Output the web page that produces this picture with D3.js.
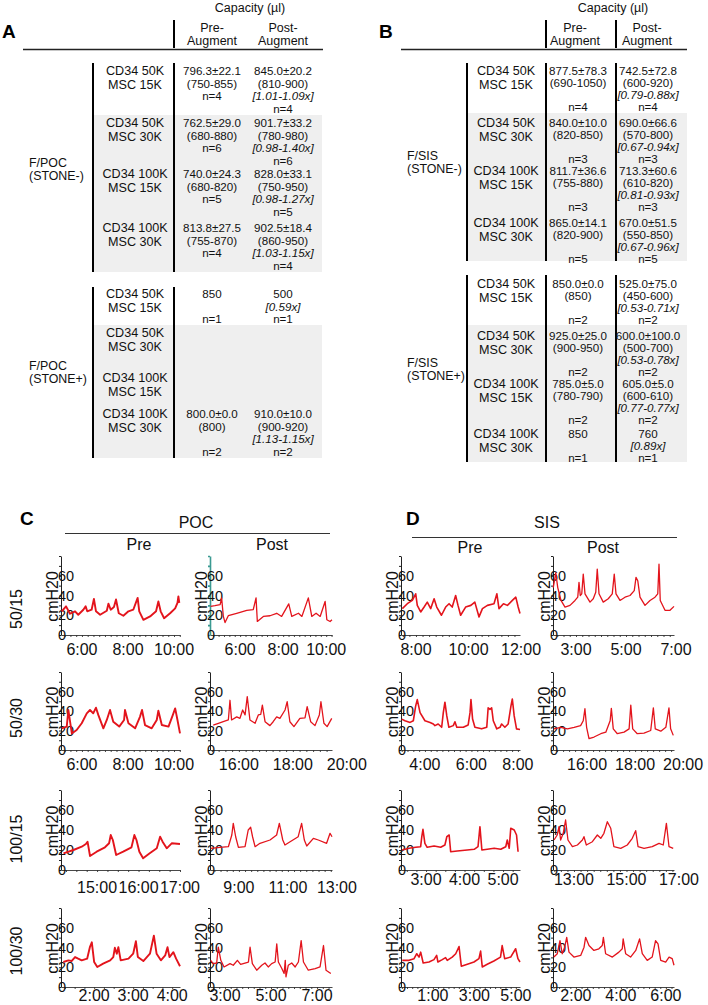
<!DOCTYPE html>
<html><head><meta charset="utf-8">
<script src="https://cdn.jsdelivr.net/npm/d3@7"></script>
<style>
body{margin:0;background:#fff}
svg{display:block;font-family:"Liberation Sans",Arial,Helvetica,sans-serif}
</style></head>
<body><svg id="c" width="708" height="1005"></svg>
<script>
// ---------------- DATA ----------------
const capacityTitle = "Capacity (µl)";
const colHeads = [["Pre-","Augment"],["Post-","Augment"]];
const conditionLabels = [["CD34 50K","MSC 15K"],["CD34 50K","MSC 30K"],["CD34 100K","MSC 15K"],["CD34 100K","MSC 30K"]];
const groupsA = [["F/POC","(STONE-)"],["F/POC","(STONE+)"]];
const groupsB = [["F/SIS","(STONE-)"],["F/SIS","(STONE+)"]];
const preA = [
  [["796.3±22.1","(750-855)","n=4"],["762.5±29.0","(680-880)","n=6"],["740.0±24.3","(680-820)","n=5"],["813.8±27.5","(755-870)","n=4"]],
  [["850",null,"n=1"],[],[],["800.0±0.0","(800)",null,"n=2"]]
];
const postA = [
  [["845.0±20.2","(810-900)","[1.01-1.09x]","n=4"],["901.7±33.2","(780-980)","[0.98-1.40x]","n=6"],["828.0±33.1","(750-950)","[0.98-1.27x]","n=5"],["902.5±18.4","(860-950)","[1.03-1.15x]","n=4"]],
  [["500","[0.59x]","n=1"],[],[],["910.0±10.0","(900-920)","[1.13-1.15x]","n=2"]]
];
const preB = [
  [["877.5±78.3","(690-1050)",null,"n=4"],["840.0±10.0","(820-850)",null,"n=3"],["811.7±36.6","(755-880)",null,"n=3"],["865.0±14.1","(820-900)",null,"n=5"]],
  [["850.0±0.0","(850)",null,"n=2"],["925.0±25.0","(900-950)",null,"n=2"],["785.0±5.0","(780-790)",null,"n=2"],["850",null,"n=1"]]
];
const postB = [
  [["742.5±72.8","(600-920)","[0.79-0.88x]","n=4"],["690.0±66.6","(570-800)","[0.67-0.94x]","n=3"],["713.3±60.6","(610-820)","[0.81-0.93x]","n=3"],["670.0±51.5","(550-850)","[0.67-0.96x]","n=5"]],
  [["525.0±75.0","(450-600)","[0.53-0.71x]","n=2"],["600.0±100.0","(500-700)","[0.53-0.78x]","n=2"],["605.0±5.0","(600-610)","[0.77-0.77x]","n=2"],["760","[0.89x]","n=1"]]
];

const rowLabels = ["50/15","50/30","100/15","100/30"];
const yTickValues = [0,20,40,60];
const yLabel = "cmH20";

const pocPreDomains  = [[5.09,10.26],[5.09,10.26],[14.13,17.0],[1.15,4.2]];
const pocPostDomains = [[4.6,10.27],[14.93,19.45],[7.82,12.8],[2.35,7.65]];
const sisPreDomains  = [[7.43,11.96],[2.97,8.09],[2.35,5.44],[-0.54,5.2]];
const sisPostDomains = [[2.08,6.92],[14.58,19.62],[12.2,16.81],[0.98,6.36]];
const pocPreTicks  = [[6,8,10],[6,8,10],[15,16,17],[2,3,4]];
const pocPostTicks = [[6,8,10],[16,18,20],[9,11,13],[3,5,7]];
const sisPreTicks  = [[8,10,12],[4,6,8],[3,4,5],[1,3,5]];
const sisPostTicks = [[3,5,7],[16,18,20],[13,15,17],[2,4,6]];

// traces: [hour, cmH2O]
const pocPre5015 = [[5.12,24],[5.31,29],[5.48,21.5],[5.70,24],[5.84,20.5],[6.06,25.6],[6.16,29],[6.23,24],[6.42,25.6],[6.52,36.6],[6.61,24],[6.79,20.5],[7.08,24.6],[7.15,31.8],[7.25,25.6],[7.39,28.4],[7.48,36],[7.60,22],[7.80,19.5],[8.02,24],[8.23,25.6],[8.42,37.6],[8.49,24],[8.67,15.4],[8.96,18.8],[9.22,24],[9.32,34],[9.42,24],[9.57,17],[9.83,22],[10.05,27],[10.15,32.5],[10.19,39],[10.23,32.5]];
const pocPre5030 = [[5.12,22.2],[5.34,24],[5.41,41],[5.56,17],[5.77,20.5],[5.99,27.4],[6.21,37.6],[6.35,41],[6.49,37.6],[6.61,43.4],[6.71,36],[6.93,22.2],[7.08,30.8],[7.22,41],[7.36,29],[7.62,24],[7.83,30.8],[7.87,41],[8.02,27.4],[8.31,22.2],[8.52,34],[8.61,41],[8.74,25.6],[9.03,22.2],[9.25,30.8],[9.32,40.3],[9.47,25.6],[9.76,24],[9.95,36],[10.05,42.7],[10.15,30.8],[10.26,17]];
const pocPre10015 = [[14.19,16.7],[14.43,20],[14.63,23.3],[14.73,26],[14.77,28.3],[14.83,14],[14.99,18.3],[15.19,22.7],[15.29,26.7],[15.33,35],[15.38,30],[15.46,15],[15.63,18.3],[15.83,22.7],[15.90,35],[15.95,30],[16.02,18.3],[16.11,11.7],[16.27,16.7],[16.44,21.7],[16.52,33.3],[16.58,28.3],[16.68,21.7],[16.80,26.7],[17.00,26]];
const pocPre10030 = [[1.21,25.3],[1.34,27],[1.42,26.3],[1.51,30.3],[1.59,28.7],[1.68,27],[1.82,28.7],[1.89,40.3],[1.94,45.3],[2.00,25.3],[2.08,20.3],[2.23,23.7],[2.41,27],[2.49,30.3],[2.53,39.7],[2.58,33.7],[2.62,40.3],[2.68,27],[2.88,28.7],[3.00,33.7],[3.07,46.3],[3.12,30.3],[3.26,26.3],[3.43,33.7],[3.53,52],[3.60,33.7],[3.71,27],[3.82,32],[3.88,40.3],[3.93,30.3],[4.03,35.3],[4.10,28.7],[4.20,21]];
const pocPost5015 = [[4.63,29],[4.83,29.7],[5.07,30.8],[5.14,37.6],[5.22,18.8],[5.30,12.6],[5.45,19.5],[5.84,22],[6.31,25],[6.61,25.6],[6.74,37.6],[6.80,13.7],[7.08,18.8],[7.39,19.5],[7.70,22],[7.93,18.8],[8.26,31.5],[8.40,18.8],[8.71,22],[8.87,18.8],[9.17,37.6],[9.33,18.8],[9.53,22],[9.72,18.8],[9.95,34],[10.03,15.4],[10.18,13.7],[10.27,15.4]];
const pocPost5030 = [[15.05,25.6],[15.24,27.4],[15.42,29],[15.61,30.8],[15.67,51],[15.73,30.8],[15.92,34],[16.04,32.5],[16.14,41],[16.23,36],[16.31,54.7],[16.41,30.8],[16.60,27.4],[16.72,36],[16.81,36.6],[16.87,46],[16.97,29],[17.15,25],[17.27,29],[17.40,34],[17.52,32.5],[17.71,41],[17.79,49.5],[17.89,29],[18.04,24],[18.26,32.5],[18.45,33],[18.53,44.4],[18.66,29],[18.82,25],[18.98,36],[19.04,49.5],[19.15,27.4],[19.27,24],[19.44,32.5]];
const pocPost10015 = [[7.85,21.7],[8.23,22.7],[8.57,23.3],[8.71,35],[8.77,46.7],[8.87,33],[8.98,22.7],[9.25,23.3],[9.38,40],[9.48,42.7],[9.56,33],[9.66,23.3],[9.86,26.7],[10.27,30],[10.54,35],[10.65,46.7],[10.79,30],[10.88,25],[11.09,28.3],[11.42,33.3],[11.56,46.7],[11.67,30],[11.77,24],[12.04,31.7],[12.24,30],[12.58,26.7],[12.72,36.7],[12.80,33.3]];
const pocPost10030 = [[2.38,27],[2.49,23.7],[2.64,24.3],[2.71,40.3],[2.82,27],[2.96,20.3],[3.22,23.7],[3.36,22],[3.54,27],[3.68,23],[4.02,25.3],[4.09,40.3],[4.19,23.7],[4.38,17],[4.60,22],[4.74,24.3],[4.88,20.3],[5.03,23.7],[5.18,25.3],[5.25,43.7],[5.32,25.3],[5.47,18.7],[5.57,13.7],[5.62,27],[5.65,10.3],[5.75,22],[5.90,24.3],[6.05,20.3],[6.19,25.3],[6.31,47],[6.41,25.3],[6.62,17],[6.92,18.7],[7.13,20.3],[7.28,42],[7.39,17],[7.60,13.7]];
const sisPre5015 = [[7.48,26.7],[7.67,31.7],[7.86,35],[7.99,41.7],[8.05,30],[8.18,23.3],[8.31,28.3],[8.43,33.3],[8.56,26.7],[8.69,36.7],[8.79,28.3],[8.97,20],[9.13,28.3],[9.26,31.7],[9.38,28.3],[9.51,40],[9.60,30],[9.70,20],[9.89,28.3],[10.09,30],[10.24,33.3],[10.40,18.3],[10.53,26.7],[10.72,30],[10.97,31.7],[11.08,41.7],[11.16,26.7],[11.33,31.7],[11.48,30],[11.67,35],[11.80,38.3],[11.89,28.3],[11.96,21.7]];
const sisPre5030 = [[3.00,31.7],[3.14,30],[3.36,28.3],[3.50,30],[3.60,45],[3.67,51.7],[3.79,38.3],[4.00,30],[4.22,28.3],[4.36,26.7],[4.43,25],[4.57,26.7],[4.72,23.3],[4.79,38.3],[4.86,49],[4.94,35],[5.03,23.3],[5.22,25],[5.29,29],[5.37,23.3],[5.65,23.3],[5.86,25.7],[5.94,38.3],[5.98,51.7],[6.05,31.7],[6.15,23.3],[6.44,21.7],[6.66,23.3],[6.72,43.3],[6.80,41.7],[6.87,43.3],[6.94,30],[7.09,21.7],[7.23,23.3],[7.30,26.7],[7.44,23.3],[7.58,26.7],[7.70,45],[7.76,52.3],[7.84,35],[7.94,21.7],[8.09,21]];
const sisPre10015 = [[2.38,20],[2.56,21.7],[2.73,22.7],[2.86,23.3],[2.89,33.3],[2.92,40.7],[2.97,26.7],[3.03,22.7],[3.21,24],[3.38,22.7],[3.49,25],[3.54,33.3],[3.60,35],[3.64,18.3],[3.81,19],[4.07,20],[4.25,20.7],[4.35,23.3],[4.40,43.3],[4.45,20],[4.59,20.7],[4.77,21.7],[4.94,20.7],[5.07,23.3],[5.11,30],[5.16,21.7],[5.20,41.7],[5.29,40],[5.35,35],[5.39,18.3]];
const sisPre10030 = [[-0.48,27],[-0.15,27],[0.09,28.7],[0.22,33.7],[0.33,30.3],[0.41,35.3],[0.53,24.3],[0.81,25.3],[1.05,27.7],[1.18,32],[1.24,25.3],[1.45,27.7],[1.61,29.7],[1.69,27],[1.93,30.3],[2.10,33.7],[2.26,41],[2.37,21],[2.66,23],[2.98,25.3],[3.22,28.7],[3.30,36.3],[3.38,20.3],[3.62,23],[3.94,26.3],[4.26,30.3],[4.34,42],[4.46,28.7],[4.75,30.3],[4.99,38.7],[5.10,28.7],[5.20,25.3]];
const sisPost5015 = [[2.09,48],[2.19,63],[2.27,48],[2.40,35],[2.56,28.3],[2.76,30],[2.96,35],[3.07,38.3],[3.12,53.3],[3.17,40],[3.23,41.7],[3.29,61.7],[3.36,41.7],[3.56,33.3],[3.69,36.7],[3.79,43.3],[3.85,66.7],[3.92,41.7],[4.09,33.3],[4.29,36.7],[4.45,41.7],[4.53,61.7],[4.60,41.7],[4.76,35],[4.96,38.3],[5.16,40],[5.33,45],[5.40,58.3],[5.47,55],[5.56,38.3],[5.76,30],[5.96,35],[6.16,38.3],[6.27,41.7],[6.32,71.7],[6.37,35],[6.56,25],[6.76,25],[6.92,29]];
const sisPost5030 = [[14.62,21.7],[14.90,23.3],[15.18,21.7],[15.46,23.3],[15.73,25],[15.84,30],[15.91,42.3],[15.98,23.3],[16.08,11.7],[16.29,13.3],[16.57,16.7],[16.78,18.3],[16.96,30],[17.01,42.7],[17.09,21.7],[17.26,16.7],[17.54,18.3],[17.75,21.7],[17.82,46],[17.90,21.7],[18.09,16.7],[18.37,17.3],[18.65,20],[18.76,43.3],[18.84,21.7],[19.07,19.3],[19.28,23.3],[19.41,43.3],[19.48,21.7],[19.59,15]];
const sisPost10015 = [[12.24,30],[12.36,35],[12.43,43.3],[12.49,30],[12.59,36.7],[12.68,50],[12.77,30],[12.94,23.3],[13.13,25],[13.32,30],[13.38,33.3],[13.47,25],[13.70,28.3],[13.89,35],[14.02,31.7],[14.14,36.7],[14.27,48.3],[14.40,41.7],[14.52,23.3],[14.78,21.7],[15.03,25],[15.22,31.7],[15.35,39.3],[15.44,23.3],[15.67,21.7],[15.98,23.3],[16.24,26.7],[16.40,25],[16.52,46.7],[16.62,23.3],[16.78,21.7]];
const sisPost10030 = [[1.02,30.3],[1.17,33.7],[1.29,47],[1.39,33.7],[1.50,40.3],[1.59,50.3],[1.69,35.3],[1.91,30.3],[2.21,32],[2.36,40.3],[2.43,50.3],[2.58,42],[2.80,37],[3.02,38.7],[3.17,42],[3.22,50.3],[3.32,33.7],[3.62,30.3],[3.91,35.3],[4.06,38.7],[4.10,48.7],[4.21,33.7],[4.43,30.3],[4.66,37],[4.83,48.7],[4.95,33.7],[5.17,27],[5.39,30.3],[5.54,47],[5.65,43.7],[5.77,27],[5.99,25.3],[6.14,30.3],[6.28,28.7],[6.36,22]];

// ---------------- LAYOUT ----------------
const svg = d3.select("#c");
const INK = "#111";
const TRACE = "#e3141c";

const tableLayouts = [
  {letter:"A", letterX:2, capX:250, headSep:[174], hLine:[23,323], vLines:[93,174], condX:135, preX:212, postX:283, groupX:29, shade:[93,322], lh:12.7,
   groups:[{top:63,bottom:272,shadeTop:115,rows:[75,127,178,232],label:167},{top:287,bottom:458,shadeTop:325,rows:[298,337,382,418],label:370}],
   labels:groupsA, pre:preA, post:postA},
  {letter:"B", letterX:379, capX:613, headSep:[546,616], hLine:[401,687], vLines:[467,546,616], condX:506, preX:578, postX:648, groupX:407, shade:[467,687], lh:12.1,
   groups:[{top:63,bottom:261,shadeTop:113,rows:[75,127,175,227],label:160},{top:275,bottom:462,shadeTop:325,rows:[288,340,388,438],label:367}],
   labels:groupsB, pre:preB, post:postB}
];

function cellText(g, lines, cx, y0, lh) {
  lines.forEach((t, i) => {
    if (t == null) return;
    g.append("text").attr("x", cx).attr("y", y0 + i*lh).attr("text-anchor","middle")
      .attr("font-size", 11.6).attr("fill", INK)
      .attr("font-style", t.startsWith("[") ? "italic" : "normal").text(t);
  });
}

tableLayouts.forEach(L => {
  const g = svg.append("g");
  g.append("text").attr("x", L.letterX).attr("y", 38).attr("font-size", 19).attr("font-weight","bold").attr("fill","#000").text(L.letter);
  g.append("text").attr("x", L.capX).attr("y", 12).attr("text-anchor","middle").attr("font-size", 12.5).attr("fill", INK).text(capacityTitle);
  [L.preX - (L.letter==="B"?3:0), L.postX - (L.letter==="B"?1:0)].forEach((cx, k) => {
    colHeads[k].forEach((t, i) => g.append("text").attr("x", cx).attr("y", 32 + i*13).attr("text-anchor","middle").attr("font-size", 12.5).attr("fill", INK).text(t));
  });
  L.headSep.forEach(x => g.append("line").attr("x1",x).attr("x2",x).attr("y1",20).attr("y2",48).attr("stroke","#000").attr("stroke-width",2));
  g.append("line").attr("x1",L.hLine[0]).attr("x2",L.hLine[1]).attr("y1",49.5).attr("y2",49.5).attr("stroke","#222").attr("stroke-width",1.3);

  L.groups.forEach((G, gi) => {
    g.append("rect").attr("x", L.shade[0]).attr("y", G.shadeTop).attr("width", L.shade[1]-L.shade[0]).attr("height", G.bottom - G.shadeTop).attr("fill","#efefef");
    L.vLines.forEach(x => g.append("line").attr("x1",x).attr("x2",x).attr("y1",G.top).attr("y2",G.bottom).attr("stroke","#000").attr("stroke-width",2));
    L.labels[gi].forEach((t,i) => g.append("text").attr("x", L.groupX).attr("y", G.label + i*13).attr("font-size", 12.4).attr("fill", INK).text(t));
    G.rows.forEach((ry, ri) => {
      conditionLabels[ri].forEach((t,i) => g.append("text").attr("x", L.condX).attr("y", ry + i*13.5).attr("text-anchor","middle").attr("font-size", 12.6).attr("fill", INK).text(t));
      cellText(g, L.pre[gi][ri], L.preX, ry, L.lh);
      cellText(g, L.post[gi][ri], L.postX, ry, L.lh);
    });
  });
});

// ---------------- PANELS C & D ----------------
const cols = [{axis:61,end:180},{axis:210,end:332},{axis:401,end:520},{axis:553,end:674}];
const rowsY = [{zero:635,top:556},{zero:750,top:672},{zero:870,top:790},{zero:987,top:908}];
const panelSets = [
  {col:0, domains:pocPreDomains,  ticks:pocPreTicks,  traces:[pocPre5015,pocPre5030,pocPre10015,pocPre10030], width:1.9, labOff:[20,20,23,14]},
  {col:1, domains:pocPostDomains, ticks:pocPostTicks, traces:[pocPost5015,pocPost5030,pocPost10015,pocPost10030], width:1.3, labOff:[20,20,23,14]},
  {col:2, domains:sisPreDomains,  ticks:sisPreTicks,  traces:[sisPre5015,sisPre5030,sisPre10015,sisPre10030], width:1.6, labOff:[20,20,15,14]},
  {col:3, domains:sisPostDomains, ticks:sisPostTicks, traces:[sisPost5015,sisPost5030,sisPost10015,sisPost10030], width:1.3, labOff:[20,20,15,14]}
];
const axisColorOverride = {"1-0":"#3b9a92"};

// headers
function header(letter, lx, title, tx, lineX, lineY, preX, postX, subY) {
  svg.append("text").attr("x", lx).attr("y", 525).attr("font-size", 19).attr("font-weight","bold").attr("fill","#000").text(letter);
  svg.append("text").attr("x", tx).attr("y", 528).attr("text-anchor","middle").attr("font-size", 16).attr("fill", INK).text(title);
  svg.append("line").attr("x1", lineX[0]).attr("x2", lineX[1]).attr("y1", lineY).attr("y2", lineY).attr("stroke","#333").attr("stroke-width",1);
  svg.append("text").attr("x", preX).attr("y", subY).attr("text-anchor","middle").attr("font-size", 16).attr("fill", INK).text("Pre");
  svg.append("text").attr("x", postX).attr("y", subY).attr("text-anchor","middle").attr("font-size", 16).attr("fill", INK).text("Post");
}
header("C", 20, "POC", 196, [65,330], 533.5, 139, 272, 550);
header("D", 406, "SIS", 547, [412,677], 537.5, 470, 603, 553);

const rowLabelY = [609, 718, 839, 951];
rowLabels.forEach((t, i) => {
  svg.append("text").attr("transform", `translate(22,${rowLabelY[i]}) rotate(-90)`).attr("text-anchor","middle")
    .attr("font-size", 16).attr("fill", INK).text(t);
});

panelSets.forEach((S, si) => {
  const C = cols[S.col];
  S.traces.forEach((tr, ri) => {
    const R = rowsY[ri];
    const dom = S.domains[ri];
    const x = d3.scaleLinear().domain(dom).range([C.axis, C.end]);
    const y = d3.scaleLinear().domain([0, 80]).range([R.zero, R.top]);
    const g = svg.append("g");
    const minor = d3.range(Math.ceil(dom[0]*4)/4, dom[1] + 1e-9, 0.25);
    g.append("g").attr("transform", `translate(0,${R.zero})`)
      .call(d3.axisBottom(x).tickValues(minor).tickSize(2).tickSizeOuter(0).tickFormat(""))
      .call(a => { a.selectAll("path,line").attr("stroke","#333").attr("stroke-width",0.9); });
    const ac = axisColorOverride[`${si}-${ri}`] || "#222";
    g.append("g").attr("transform", `translate(${C.axis},0)`)
      .call(d3.axisLeft(y).tickValues(d3.range(0, 81, 10)).tickSize(2).tickSizeOuter(0).tickFormat(""))
      .call(a => { a.selectAll("path,line").attr("stroke", ac).attr("stroke-width", ac === "#222" ? 1 : 1.6); });
    g.selectAll("text.yl").data(yTickValues).join("text").attr("class","yl")
      .attr("x", C.axis - 3).attr("y", d => y(d)).attr("dy","0.36em")
      .attr("font-size", 14.5).attr("fill", INK).text(d => d);
    g.append("text").attr("transform", `translate(${C.axis - 3},${y(39)}) rotate(-90)`).attr("text-anchor","middle")
      .attr("font-size", 16).attr("fill", INK).text(yLabel);
    g.selectAll("text.xl").data(S.ticks[ri]).join("text").attr("class","xl")
      .attr("x", d => x(d)).attr("y", R.zero + S.labOff[ri]).attr("text-anchor","middle")
      .attr("font-size", 16).attr("fill", INK).text(d => `${d}:00`);
    g.append("path").datum(tr)
      .attr("d", d3.line().x(d => x(d[0])).y(d => y(d[1])))
      .attr("fill","none").attr("stroke", TRACE).attr("stroke-width", S.width).attr("stroke-linejoin","round");
  });
});
</script>
</body></html>
